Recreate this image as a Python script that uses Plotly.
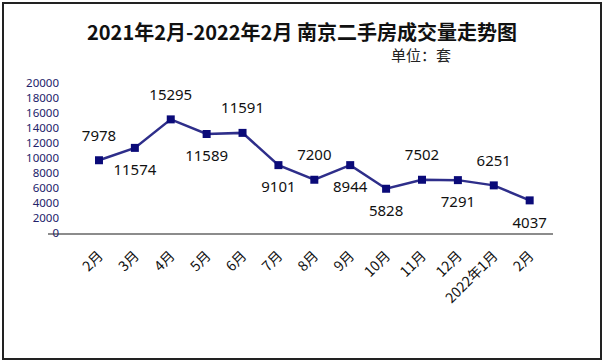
import plotly.graph_objects as go

months = ["2月", "3月", "4月", "5月", "6月", "7月", "8月", "9月", "10月", "11月", "12月", "2022年1月", "2月"]
# point heights as drawn in the reference
values = [9700, 11350, 15150, 13200, 13350, 9050, 7100, 9050, 5900, 7100, 7050, 6350, 4350]
# data labels as printed in the reference
labels = ["7978", "11574", "15295", "11589", "11591", "9101", "7200", "8944", "5828", "7502", "7291", "6251", "4037"]
label_pos = ["top center", "bottom center", "top center", "bottom center", "top center", "bottom center",
             "top center", "bottom center", "bottom center", "top center", "bottom center", "top center",
             "bottom center"]
y_ticks = list(range(0, 20001, 2000))

W, H = 607, 364
L, R, T, B = 48, 54, 83, 131
pw, ph = W - L - R, H - T - B

def px_x(px):
    return (px - L) / pw

def px_y(py):
    return 1 - (py - T) / ph

xs = list(range(len(months)))

fig = go.Figure()
fig.add_trace(go.Scatter(
    x=xs, y=values, mode="lines+markers",
    line=dict(color="#2e2e8a", width=2.5),
    marker=dict(symbol="square", size=8, color="#0a0a78"),
    cliponaxis=False, hoverinfo="skip",
))
fig.add_trace(go.Scatter(
    x=xs, y=values, mode="markers+text",
    marker=dict(size=24, opacity=0),
    text=labels, textposition=label_pos,
    textfont=dict(family="Noto Sans", size=15, color="#111111"),
    cliponaxis=False, hoverinfo="skip",
))

fig.update_layout(
    width=W, height=H,
    margin=dict(l=L, r=R, t=T, b=B, autoexpand=False),
    paper_bgcolor="white", plot_bgcolor="white",
    showlegend=False,
    font=dict(family="Noto Sans CJK SC"),
    xaxis=dict(
        range=[-1.42, 12.65], tickvals=xs, ticktext=months, tickangle=-45,
        showgrid=False, zeroline=False, showline=True, linecolor="#8c8c8c", linewidth=2,
        ticks="", tickfont=dict(family="Noto Sans CJK SC", size=14, color="#111111"),
        ticklabelstandoff=7, fixedrange=True, automargin=False,
    ),
    yaxis=dict(
        range=[0, 20000], tickvals=y_ticks, ticktext=[str(v) for v in y_ticks],
        showgrid=False, zeroline=False, showline=False,
        ticks="", tickfont=dict(family="Noto Sans", size=11.5, color="#22226a"),
        ticklabelstandoff=-12, fixedrange=True, automargin=False,
    ),
    shapes=[dict(type="rect", xref="paper", yref="paper",
                 x0=px_x(3), x1=px_x(601), y0=px_y(359), y1=px_y(3),
                 line=dict(color="#222222", width=2), layer="below")],
    annotations=[
        dict(text="2021年2月-2022年2月 南京二手房成交量走势图", xref="paper", yref="paper",
             x=px_x(302), y=px_y(31), xanchor="center", yanchor="middle", showarrow=False,
             font=dict(family="Noto Sans CJK SC", size=20, color="#111111", weight="bold")),
        dict(text="单位：套", xref="paper", yref="paper",
             x=px_x(421), y=px_y(55), xanchor="center", yanchor="middle", showarrow=False,
             font=dict(family="Noto Sans CJK SC", size=15, color="#222222")),
    ],
)

fig.write_html("out.html", config={"displayModeBar": False},
               post_script="document.body.style.margin='0';document.body.style.overflow='hidden';")
